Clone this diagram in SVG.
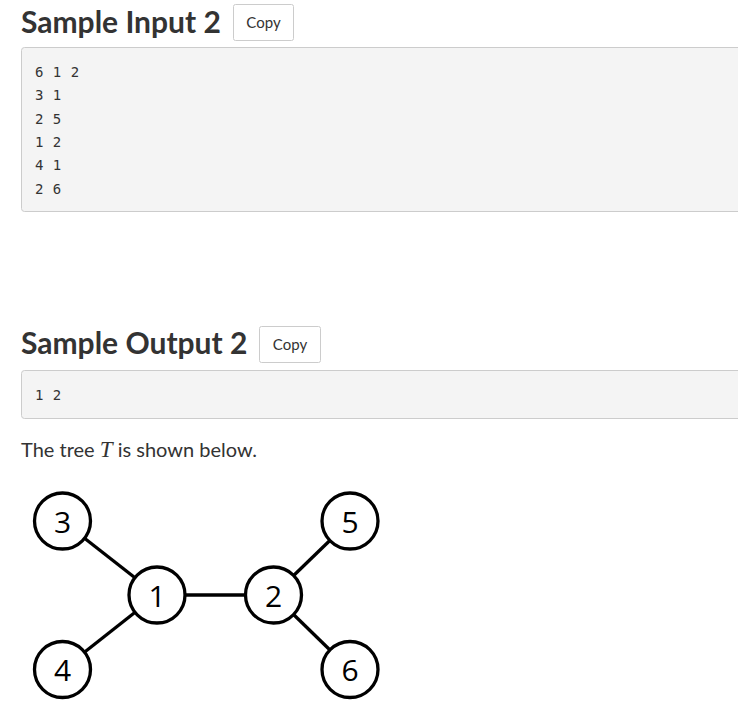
<svg xmlns="http://www.w3.org/2000/svg" width="738" height="709" viewBox="0 0 738 709">
<style>
.h{font-family:Lato,"Liberation Sans",sans-serif;font-weight:bold;font-size:30px;fill:#333}
.btn{fill:#fff;stroke:#ccc;stroke-width:1}
.bt{font-family:Lato,"Liberation Sans",sans-serif;font-size:15px;fill:#333;text-anchor:middle}
.pre{fill:#f4f4f4;stroke:#ccc;stroke-width:1}
.m{font-family:"DejaVu Sans Mono","Liberation Mono",monospace;font-size:14px;letter-spacing:0.5px;fill:#333}
.p{font-family:Lato,"Liberation Sans",sans-serif;font-size:20px;fill:#333}
.n circle{fill:#fff;stroke:#000;stroke-width:3.3}
.n text{font-family:"Open Sans","Liberation Sans",sans-serif;font-size:30px;fill:#000;text-anchor:middle}
.e line{stroke:#000;stroke-width:3.3}
</style>
<rect width="738" height="709" fill="#fff"/>
<text class="h" x="21" y="33">Sample Input 2</text>
<rect class="btn" x="233.5" y="4.5" width="60" height="36" rx="2"/>
<text class="bt" x="263.5" y="28">Copy</text>
<rect class="pre" x="21.5" y="47.5" width="740" height="164" rx="3"/>
<text class="m" x="35" y="77">6 1 2</text>
<text class="m" x="35" y="100">3 1</text>
<text class="m" x="35" y="123.5">2 5</text>
<text class="m" x="35" y="147">1 2</text>
<text class="m" x="35" y="170">4 1</text>
<text class="m" x="35" y="193.5">2 6</text>
<text class="h" x="21" y="354">Sample Output 2</text>
<rect class="btn" x="259.5" y="326.5" width="61" height="36" rx="2"/>
<text class="bt" x="290" y="350">Copy</text>
<rect class="pre" x="21.5" y="370.5" width="740" height="48" rx="3"/>
<text class="m" x="35" y="400">1 2</text>
<text class="p" x="21" y="456.5">The tree <tspan font-family="'Liberation Serif',serif" font-style="italic" font-size="23">T</tspan> is shown below.</text>
<g class="e" id="edges">
<line x1="62.5" y1="521" x2="157" y2="595"/>
<line x1="62.5" y1="669.5" x2="157" y2="595"/>
<line x1="157" y1="595" x2="273.5" y2="595"/>
<line x1="273.5" y1="595" x2="350" y2="521"/>
<line x1="273.5" y1="595" x2="350" y2="669.5"/>
</g>
<g class="n" id="node3"><circle cx="62.5" cy="521" r="28"/><text x="62.5" y="532.5">3</text></g>
<g class="n" id="node1"><circle cx="157" cy="595" r="28"/><text x="157" y="606.5">1</text></g>
<g class="n" id="node2"><circle cx="273.5" cy="595" r="28"/><text x="273.5" y="606.5">2</text></g>
<g class="n" id="node5"><circle cx="350" cy="521" r="28"/><text x="350" y="532.5">5</text></g>
<g class="n" id="node4"><circle cx="62.5" cy="669.5" r="28"/><text x="62.5" y="681">4</text></g>
<g class="n" id="node6"><circle cx="350" cy="669.5" r="28"/><text x="350" y="681">6</text></g>
</svg>
